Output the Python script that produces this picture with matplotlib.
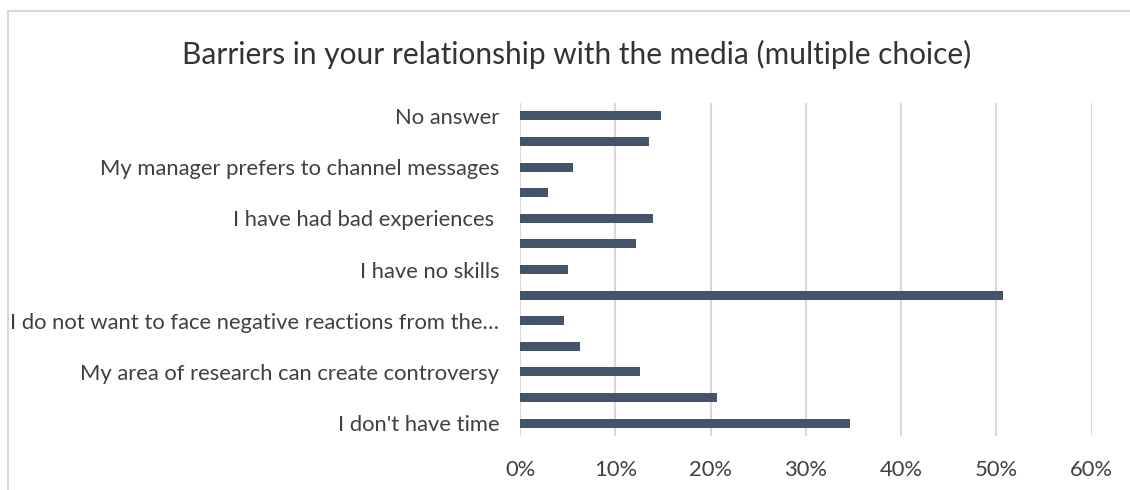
import numpy as np
import matplotlib
matplotlib.use("Agg")
import matplotlib.pyplot as plt
from matplotlib.patches import Rectangle
from matplotlib.ticker import PercentFormatter

# categories from bottom to top; Excel skipped every other label
categories = [
    "I don't have time",
    "",
    "My area of research can create controversy",
    "",
    "I do not want to face negative reactions from the\u2026",
    "",
    "I have no skills",
    "",
    "I have had bad experiences ",
    "",
    "My manager prefers to channel messages",
    "",
    "No answer",
]
shares = [34.6, 20.7, 12.6, 6.3, 4.6, 50.7, 5.0, 12.2, 13.9, 2.9, 5.5, 13.5, 14.8]
x_ticks = [0, 10, 20, 30, 40, 50, 60]

bar_color = "#44546a"
grid_color = "#d9d9d9"
text_color = "#404040"

plt.rcParams["font.family"] = ["Lato", "DejaVu Sans"]

fig = plt.figure(figsize=(11.3, 4.9), dpi=100, facecolor="white")
ax = fig.add_axes([0.4604, 0.1102, 0.5057, 0.6796])

y = np.arange(len(shares))
ax.barh(y, shares, height=0.35, color=bar_color, zorder=3)

ax.set_ylim(-0.5, len(shares) - 0.5)
ax.set_xlim(0, 60)
ax.set_xticks(x_ticks)
ax.xaxis.set_major_formatter(PercentFormatter(decimals=0))
ax.set_yticks(y)
ax.set_yticklabels(categories)

for s in ax.spines.values():
    s.set_visible(False)
ax.xaxis.grid(True, color=grid_color, linewidth=1.5, zorder=0)
ax.tick_params(axis="both", length=0, labelsize=15.8, colors=text_color)
ax.tick_params(axis="y", pad=15)
ax.tick_params(axis="x", pad=17)

fig.text(0.51, 0.888, "Barriers in your relationship with the media (multiple choice)",
         ha="center", va="center", fontsize=21.5, color="#333333")

# chart frame, only the left and top edges fall inside the image
fig.patches.append(Rectangle((7.5 / 1130, -0.1), 1.2, 1 - 11.5 / 490 + 0.1,
                             transform=fig.transFigure, fill=False,
                             edgecolor=grid_color, linewidth=1.5))

fig.savefig("out.png", dpi=100, facecolor="white")
